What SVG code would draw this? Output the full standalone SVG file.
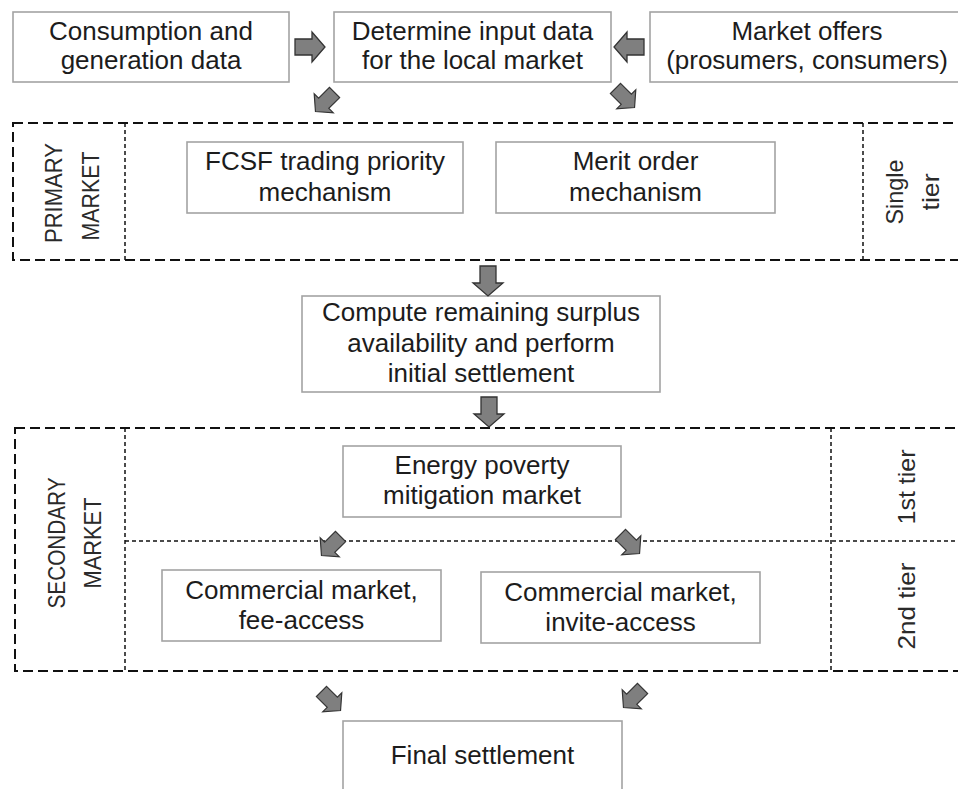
<svg xmlns="http://www.w3.org/2000/svg" width="958" height="789" viewBox="0 0 958 789">
<style>
.box{fill:#fff;stroke:#a3a3a3;stroke-width:1.6}
.t{font-family:"Liberation Sans",Arial,sans-serif;font-size:26px;fill:#1c1c1c;text-anchor:middle}
.r{font-family:"Liberation Sans",Arial,sans-serif;font-size:24px;fill:#2a2a2a;text-anchor:middle}
.outer{fill:none;stroke:#111;stroke-width:2;stroke-dasharray:10 5}
.inner{fill:none;stroke:#111;stroke-width:1.5;stroke-dasharray:4 3}
.arr{fill:#7f7f7f;stroke:#333;stroke-width:1.3;stroke-linejoin:miter}
</style>
<defs>
<polygon id="ba" points="-15,-8 2,-8 2,-15 15,0 2,15 2,8 -15,8"/>
</defs>
<rect width="958" height="789" fill="#fff"/>

<g id="primary-market">
<rect class="outer" x="13" y="123" width="960" height="137"/>
<line class="inner" x1="125" y1="123" x2="125" y2="260"/>
<line class="inner" x1="863" y1="123" x2="863" y2="260"/>
<text class="r" transform="translate(62,193) rotate(-90)" textLength="100" lengthAdjust="spacingAndGlyphs">PRIMARY</text>
<text class="r" transform="translate(99,196) rotate(-90)" textLength="89" lengthAdjust="spacingAndGlyphs">MARKET</text>
<text class="r" transform="translate(903,192) rotate(-90)" textLength="65" lengthAdjust="spacingAndGlyphs">Single</text>
<text class="r" transform="translate(939,192) rotate(-90)" textLength="37" lengthAdjust="spacingAndGlyphs">tier</text>
</g>

<g id="secondary-market">
<rect class="outer" x="15" y="428" width="960" height="243"/>
<line class="inner" x1="125" y1="428" x2="125" y2="671"/>
<line class="inner" x1="831" y1="428" x2="831" y2="671"/>
<line class="inner" x1="125" y1="541" x2="958" y2="541"/>
<text class="r" transform="translate(65,543) rotate(-90)" textLength="131" lengthAdjust="spacingAndGlyphs">SECONDARY</text>
<text class="r" transform="translate(101,543) rotate(-90)" textLength="91" lengthAdjust="spacingAndGlyphs">MARKET</text>
<text class="r" transform="translate(915,487) rotate(-90)" textLength="75" lengthAdjust="spacingAndGlyphs">1st tier</text>
<text class="r" transform="translate(915,606) rotate(-90)" textLength="87" lengthAdjust="spacingAndGlyphs">2nd tier</text>
</g>

<g id="consumption">
<rect class="box" x="13" y="12" width="276" height="70"/>
<text class="t" x="151" y="40">Consumption and</text>
<text class="t" x="151" y="69">generation data</text>
</g>
<g id="determine">
<rect class="box" x="334" y="12" width="277" height="70"/>
<text class="t" x="472.5" y="40">Determine input data</text>
<text class="t" x="472.5" y="69">for the local market</text>
</g>
<g id="offers">
<rect class="box" x="650" y="12" width="316" height="70"/>
<text class="t" x="807" y="40">Market offers</text>
<text class="t" x="807" y="69">(prosumers, consumers)</text>
</g>
<g id="fcsf">
<rect class="box" x="187" y="142" width="276" height="71"/>
<text class="t" x="325" y="170">FCSF trading priority</text>
<text class="t" x="325" y="201">mechanism</text>
</g>
<g id="merit">
<rect class="box" x="496" y="142" width="279" height="71"/>
<text class="t" x="635.5" y="170">Merit order</text>
<text class="t" x="635.5" y="201">mechanism</text>
</g>
<g id="compute">
<rect class="box" x="302" y="296" width="358" height="96"/>
<text class="t" x="481" y="321">Compute remaining surplus</text>
<text class="t" x="481" y="352">availability and perform</text>
<text class="t" x="481" y="382">initial settlement</text>
</g>
<g id="energy-poverty">
<rect class="box" x="343" y="446" width="278" height="71"/>
<text class="t" x="482" y="474">Energy poverty</text>
<text class="t" x="482" y="504">mitigation market</text>
</g>
<g id="fee-access">
<rect class="box" x="162" y="570" width="279" height="71"/>
<text class="t" x="301.5" y="599">Commercial market,</text>
<text class="t" x="301.5" y="629">fee-access</text>
</g>
<g id="invite-access">
<rect class="box" x="481" y="572" width="279" height="71"/>
<text class="t" x="620.5" y="601">Commercial market,</text>
<text class="t" x="620.5" y="631">invite-access</text>
</g>
<g id="final">
<rect class="box" x="343" y="721" width="279" height="80"/>
<text class="t" x="482.5" y="764">Final settlement</text>
</g>

<g id="connectors">
<use href="#ba" class="arr" transform="translate(310,47)"/>
<use href="#ba" class="arr" transform="translate(629,47) rotate(180)"/>
<use href="#ba" class="arr" transform="translate(325,102) rotate(135) scale(0.9)"/>
<use href="#ba" class="arr" transform="translate(625,98) rotate(45) scale(0.9)"/>
<use href="#ba" class="arr" transform="translate(488,281) rotate(90)"/>
<use href="#ba" class="arr" transform="translate(489,412) rotate(90)"/>
<use href="#ba" class="arr" transform="translate(331,546) rotate(135) scale(0.9)"/>
<use href="#ba" class="arr" transform="translate(630,544) rotate(45) scale(0.9)"/>
<use href="#ba" class="arr" transform="translate(331,701) rotate(45) scale(0.9)"/>
<use href="#ba" class="arr" transform="translate(633,698) rotate(135) scale(0.9)"/>
</g>
</svg>
